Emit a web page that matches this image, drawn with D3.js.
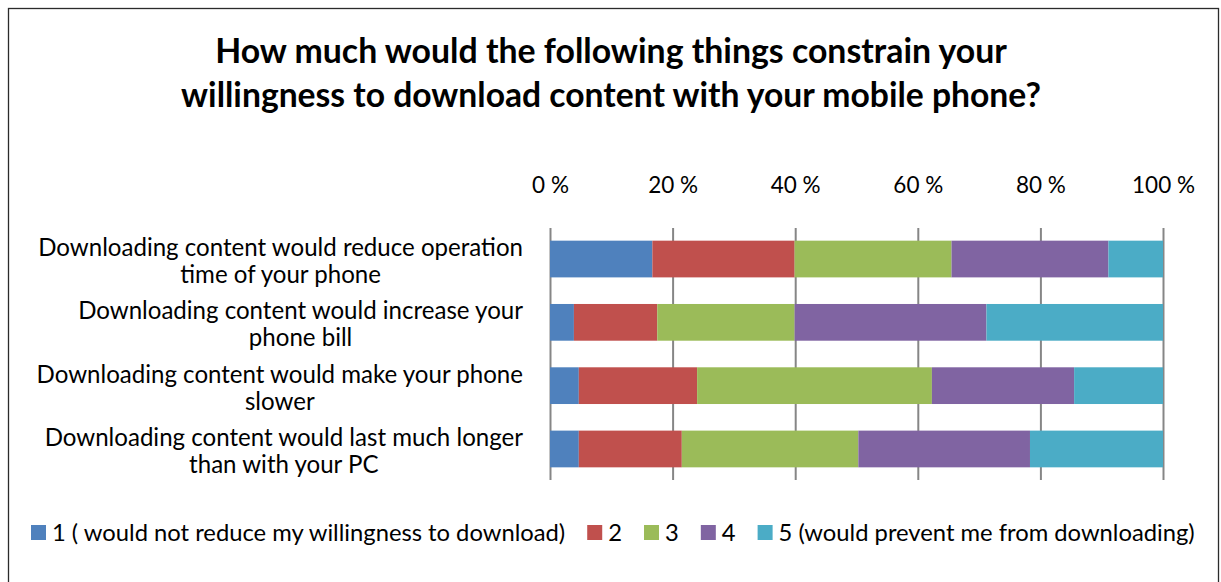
<!DOCTYPE html>
<html>
<head>
<meta charset="utf-8">
<script src="https://cdn.jsdelivr.net/npm/d3@7"></script>
<style>
  html, body { margin: 0; padding: 0; background: #fff; }
  svg { display: block; }
  text { font-family: Lato, "Open Sans", "DejaVu Sans", sans-serif; fill: #000; }
</style>
</head>
<body>
<svg id="chart" width="1221" height="582"></svg>
<script>
// Survey statements (each wrapped onto two lines)
const categories = [
  ["Downloading content would reduce operation", "time of your phone"],
  ["Downloading content would increase your", "phone bill"],
  ["Downloading content would make your phone", "slower"],
  ["Downloading content would last much longer", "than with your PC"]
];

// Share of answers (%) per rating, one array per rating level
const rating1 = [16.7, 3.9, 4.7, 4.7];
const rating2 = [23.2, 13.6, 19.3, 16.8];
const rating3 = [25.6, 22.4, 38.3, 28.8];
const rating4 = [25.6, 31.3, 23.2, 28.0];
const rating5 = [8.9, 28.8, 14.5, 21.7];

const seriesNames = [
  "1 ( would not reduce my willingness to download)",
  "2", "3", "4",
  "5 (would prevent me from downloading)"
];
const tickValues = [0, 20, 40, 60, 80, 100];
const tickLabels = ["0 %", "20 %", "40 %", "60 %", "80 %", "100 %"];

const colors = ["#4F81BD", "#C0504D", "#9BBB59", "#8064A2", "#4BACC6"];
const titleLines = [
  "How much would the following things constrain your",
  "willingness to download content with your mobile phone?"
];

const svg = d3.select("#chart");

// outer chart frame
svg.append("rect")
  .attr("x", 8.5).attr("y", 8.5)
  .attr("width", 1210).attr("height", 600)
  .attr("fill", "none").attr("stroke", "#2b2b2b").attr("stroke-width", 1.3);

// scale a text element's font size so it spans the target width
function fitWidth(sel, target) {
  const fs = parseFloat(sel.attr("font-size"));
  const w = sel.node().getComputedTextLength();
  const nfs = fs * target / w;
  sel.attr("font-size", nfs.toFixed(2));
  return nfs;
}

// title
titleLines.forEach((t, i) => {
  const el = svg.append("text")
    .attr("x", 611).attr("y", 63 + i * 44)
    .attr("text-anchor", "middle")
    .attr("font-size", 27).attr("font-weight", "bold")
    .text(t);
  fitWidth(el, i === 0 ? 792 : 860);
});

const plot = { left: 550, right: 1163, top: 228, bottom: 480 };

const x = d3.scaleLinear().domain([0, 100]).range([plot.left, plot.right]);
const y = d3.scaleBand()
  .domain(d3.range(categories.length))
  .range([plot.top, plot.bottom])
  .paddingInner(0.42).paddingOuter(0.2);

// stacked data
const table = categories.map((c, i) => ({
  idx: i,
  s0: rating1[i], s1: rating2[i], s2: rating3[i], s3: rating4[i], s4: rating5[i]
}));
const stacked = d3.stack().keys(["s0", "s1", "s2", "s3", "s4"])(table);

// vertical grid lines at the top axis ticks
const axis = d3.axisTop(x)
  .tickValues(tickValues)
  .tickFormat((d, i) => tickLabels[i])
  .tickSize(-(plot.bottom - plot.top))
  .tickPadding(0);

const gAxis = svg.append("g")
  .attr("transform", `translate(0,${plot.top})`)
  .call(axis);
gAxis.select(".domain").remove();
gAxis.selectAll(".tick line")
  .attr("stroke", "#868686").attr("stroke-width", 2);
gAxis.selectAll(".tick text")
  .attr("y", -35)
  .attr("font-size", 22.5)
  .style("font-family", "Lato, sans-serif")
  .attr("fill", "#000");

// bars
svg.append("g").selectAll("g")
  .data(stacked)
  .join("g")
  .attr("fill", (d, i) => colors[i])
  .selectAll("rect")
  .data(d => d)
  .join("rect")
  .attr("x", d => x(d[0]))
  .attr("width", d => x(d[1]) - x(d[0]))
  .attr("y", d => y(d.data.idx))
  .attr("height", y.bandwidth());

// category labels: block right-aligned to the plot, lines centred within the block
const labelRight = 523;
const gLab = svg.append("g");
const probe = gLab.append("text").attr("font-size", 20).text(categories[0][0]);
const labelSize = fitWidth(probe, 485);
probe.remove();
categories.forEach((lines, i) => {
  const cy = y(i) + y.bandwidth() / 2;
  const p = gLab.append("text").attr("font-size", labelSize).text(lines[0]);
  const w = p.node().getComputedTextLength();
  p.remove();
  const cx = labelRight - w / 2;
  lines.forEach((t, j) => {
    gLab.append("text")
      .attr("x", cx)
      .attr("y", cy + (j - 0.5) * 27 + 10.5)
      .attr("text-anchor", "middle")
      .attr("font-size", labelSize)
      .text(t);
  });
});

// legend: squares and labels laid out in one row
const legendLeft = 31, legendRight = 1195, sw = 15, sGap = 6, itemGap = 22;
const measure = svg.append("text").attr("font-size", 20);
let textTotal = 0;
seriesNames.forEach(n => { measure.text(n); textTotal += measure.node().getComputedTextLength(); });
measure.remove();
const avail = (legendRight - legendLeft) - seriesNames.length * (sw + sGap) - (seriesNames.length - 1) * itemGap;
const legendSize = 20 * avail / textTotal;

const legend = svg.append("g").attr("transform", `translate(${legendLeft},532.5)`);
let lx = 0;
seriesNames.forEach((name, i) => {
  const g = legend.append("g").attr("transform", `translate(${lx},0)`);
  g.append("rect")
    .attr("x", 0).attr("y", -7.5)
    .attr("width", sw).attr("height", sw)
    .attr("fill", colors[i]);
  const t = g.append("text")
    .attr("x", sw + sGap).attr("y", 8.5)
    .attr("font-size", legendSize)
    .text(name);
  lx += sw + sGap + t.node().getComputedTextLength() + itemGap;
});
</script>
</body>
</html>
